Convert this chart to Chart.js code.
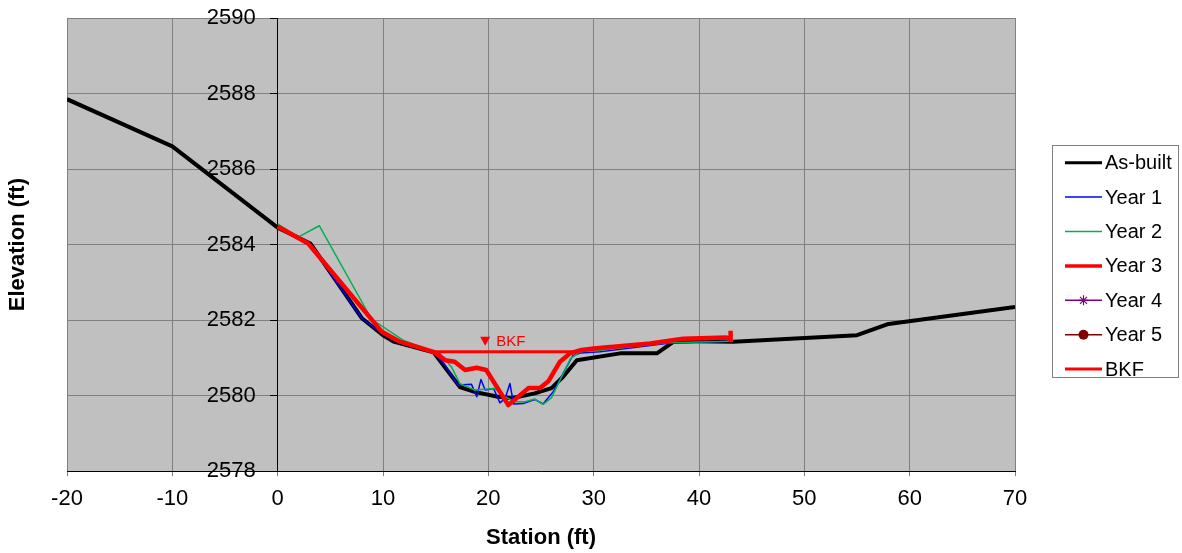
<!DOCTYPE html>
<html>
<head>
<meta charset="utf-8">
<script src="https://cdn.jsdelivr.net/npm/chart.js@4/dist/chart.umd.min.js"></script>
<style>
  body { margin: 0; background: #fff; }
</style>
</head>
<body>
<canvas id="xsChart" width="1182" height="553"></canvas>
<script>
// cross section data
const asBuiltSta = [-20, -10, 0, 3.1, 8.0, 10, 11, 14.8, 17.3, 18.7, 20.9, 22.2, 24.4, 26.0, 27.1, 28.4, 32.5, 36.0, 37.7, 43.3, 55, 58, 70];
const asBuiltElev = [2587.85, 2586.6, 2584.45, 2584.03, 2582.05, 2581.6, 2581.43, 2581.15, 2580.23, 2580.1, 2579.97, 2579.93, 2580.06, 2580.2, 2580.5, 2580.94, 2581.12, 2581.12, 2581.45, 2581.43, 2581.6, 2581.9, 2582.35];

const year1Sta = [0, 3.0, 8.0, 10, 11.5, 14.8, 15.9, 17.1, 18.4, 18.9, 19.3, 19.7, 20.5, 21.1, 21.6, 22.05, 22.4, 23.3, 24.4, 25.2, 26.2, 27.1, 28.0, 28.7, 30.6, 36.9, 43.2];
const year1Elev = [2584.45, 2584.03, 2582.05, 2581.62, 2581.4, 2581.16, 2580.8, 2580.28, 2580.3, 2579.97, 2580.43, 2580.15, 2580.19, 2579.81, 2579.93, 2580.32, 2579.78, 2579.79, 2579.9, 2579.78, 2580.12, 2580.59, 2581.05, 2581.13, 2581.16, 2581.38, 2581.45];

const year2Sta = [0, 1.95, 3.95, 8.9, 11.9, 14.0, 15.4, 16.5, 17.3, 18.7, 20.6, 21.6, 22.5, 23.5, 24.4, 25.2, 26.0, 26.8, 27.8, 28.7, 30.6, 36.9, 43.2];
const year2Elev = [2584.55, 2584.2, 2584.5, 2582.03, 2581.47, 2581.25, 2581.12, 2580.76, 2580.32, 2580.15, 2580.19, 2579.97, 2579.84, 2579.84, 2579.91, 2579.77, 2579.95, 2580.41, 2580.98, 2581.16, 2581.2, 2581.4, 2581.44];

const year3Sta = [0, 2.9, 9.9, 11.6, 14.8, 15.9, 16.8, 17.8, 18.9, 19.8, 21.9, 23.8, 24.9, 25.7, 26.8, 27.75, 28.7, 30.0, 35.35, 38.5, 42.6, 43.0, 43.0];
const year3Elev = [2584.48, 2584.03, 2581.69, 2581.43, 2581.16, 2580.94, 2580.9, 2580.68, 2580.74, 2580.68, 2579.75, 2580.2, 2580.2, 2580.38, 2580.9, 2581.12, 2581.2, 2581.25, 2581.38, 2581.51, 2581.54, 2581.47, 2581.72];

const year4Sta = [];
const year4Elev = [];
const year5Sta = [];
const year5Elev = [];

const bkfSta = [14.8, 28.4];
const bkfElev = [2581.16, 2581.16];
const bkfLabel = { sta: 19.7, elev: 2581.44, text: "BKF" };

const stationTicks = { min: -20, max: 70, step: 10 };
const elevTicks = { min: 2578, max: 2590, step: 2 };

function pts(xs, ys) {
  return xs.map((x, i) => ({ x: x, y: ys[i] }));
}

const FONT = "'Liberation Sans', Arial, sans-serif";

const plotBg = {
  id: "plotBg",
  beforeDraw(chart) {
    const { ctx, chartArea: a } = chart;
    ctx.save();
    ctx.fillStyle = "#C0C0C0";
    ctx.fillRect(a.left, a.top, a.right - a.left, a.bottom - a.top);
    ctx.restore();
  }
};

const bkfText = {
  id: "bkfText",
  afterDatasetsDraw(chart) {
    const ctx = chart.ctx;
    const px = chart.scales.x.getPixelForValue(bkfLabel.sta);
    const py = chart.scales.y.getPixelForValue(bkfLabel.elev);
    ctx.save();
    ctx.fillStyle = "#FF0000";
    ctx.beginPath();
    ctx.moveTo(px - 5, py - 4.5);
    ctx.lineTo(px + 5, py - 4.5);
    ctx.lineTo(px, py + 4.5);
    ctx.closePath();
    ctx.fill();
    ctx.font = "15px " + FONT;
    ctx.textBaseline = "middle";
    ctx.fillText(bkfLabel.text, px + 11, py + 1);
    ctx.restore();
  }
};

// legend box on the right, drawn by hand so the markers sit on the lines
const boxLegend = {
  id: "boxLegend",
  afterDraw(chart) {
    const ctx = chart.ctx;
    const x0 = chart.chartArea.right + 37;
    const y0 = 145, w = 126, h = 232, rowH = 34.4;
    ctx.save();
    ctx.fillStyle = "#fff";
    ctx.fillRect(x0, y0, w, h);
    ctx.strokeStyle = "#808080";
    ctx.lineWidth = 1;
    ctx.strokeRect(x0 + 0.5, y0 + 0.5, w, h);
    chart.data.datasets.forEach((ds, i) => {
      const y = y0 + 17.7 + i * rowH;
      const lx = x0 + 13, rx = x0 + 50, cx = (lx + rx) / 2;
      ctx.strokeStyle = ds.borderColor;
      ctx.lineWidth = ds.legendWidth;
      ctx.beginPath();
      ctx.moveTo(lx, y);
      ctx.lineTo(rx, y);
      ctx.stroke();
      if (ds.marker === "star") {
        ctx.lineWidth = 1.2;
        const r = 5;
        ctx.beginPath();
        ctx.moveTo(cx - r, y); ctx.lineTo(cx + r, y);
        ctx.moveTo(cx, y - r); ctx.lineTo(cx, y + r);
        ctx.moveTo(cx - r * 0.7, y - r * 0.7); ctx.lineTo(cx + r * 0.7, y + r * 0.7);
        ctx.moveTo(cx - r * 0.7, y + r * 0.7); ctx.lineTo(cx + r * 0.7, y - r * 0.7);
        ctx.stroke();
      } else if (ds.marker === "circle") {
        ctx.fillStyle = ds.borderColor;
        ctx.beginPath();
        ctx.arc(cx, y, 5, 0, Math.PI * 2);
        ctx.fill();
      }
      ctx.fillStyle = "#000";
      ctx.font = "20px " + FONT;
      ctx.textBaseline = "middle";
      ctx.fillText(ds.label, rx + 3, y + 1);
    });
    ctx.restore();
  }
};

const series = [
  { label: "As-built", data: pts(asBuiltSta, asBuiltElev), borderColor: "#000000", borderWidth: 4, legendWidth: 3 },
  { label: "Year 1", data: pts(year1Sta, year1Elev), borderColor: "#0000FF", borderWidth: 1.5, legendWidth: 1.5 },
  { label: "Year 2", data: pts(year2Sta, year2Elev), borderColor: "#00B050", borderWidth: 1.5, legendWidth: 1.5 },
  { label: "Year 3", data: pts(year3Sta, year3Elev), borderColor: "#FF0000", borderWidth: 4.5, legendWidth: 3.5 },
  { label: "Year 4", data: pts(year4Sta, year4Elev), borderColor: "#800080", borderWidth: 1.5, legendWidth: 1.5, marker: "star" },
  { label: "Year 5", data: pts(year5Sta, year5Elev), borderColor: "#800000", borderWidth: 1.5, legendWidth: 1.5, marker: "circle" },
  { label: "BKF", data: pts(bkfSta, bkfElev), borderColor: "#FF0000", borderWidth: 3, legendWidth: 3 }
];
// later series sit on top, like the spreadsheet
series.forEach((s, i) => {
  s.order = series.length - i;
  s.pointRadius = 0;
  s.fill = false;
  s.tension = 0;
  s.borderJoinStyle = "round";
});

const xsChart = new Chart(document.getElementById("xsChart"), {
  type: "line",
  data: { datasets: series },
  plugins: [plotBg, bkfText, boxLegend],
  options: {
    responsive: false,
    animation: false,
    layout: { padding: { left: 4, right: 167, top: 18, bottom: 0 } },
    plugins: { legend: { display: false }, tooltip: { enabled: false } },
    scales: {
      x: {
        type: "linear",
        position: "bottom",
        min: stationTicks.min,
        max: stationTicks.max,
        ticks: {
          stepSize: stationTicks.step,
          color: "#000",
          font: { family: FONT, size: 22 },
          padding: 10,
          callback: (v) => String(v)
        },
        grid: { color: "#808080", tickColor: "#808080", tickLength: 5 },
        border: { display: true, color: "#000", width: 1 },
        title: {
          display: true,
          text: "Station (ft)",
          color: "#000",
          font: { family: FONT, size: 22, weight: "bold" },
          padding: { top: 2, bottom: 2 }
        }
      },
      y: {
        type: "linear",
        position: { x: 0 },
        min: elevTicks.min,
        max: elevTicks.max,
        ticks: {
          stepSize: elevTicks.step,
          color: "#000",
          font: { family: FONT, size: 22 },
          padding: 0,
          // axis sits at station 0, labels are right aligned on it
          callback: (v) => String(v) + "\u2002\u2002"
        },
        grid: { color: "#808080", tickColor: "#000", tickLength: 7 },
        border: { display: true, color: "#000", width: 1 }
      },
      yTitle: {
        type: "linear",
        position: "left",
        ticks: { display: false },
        grid: { display: false, drawTicks: false, tickLength: 0 },
        border: { display: false },
        title: {
          display: true,
          text: "Elevation (ft)",
          color: "#000",
          font: { family: FONT, size: 22, weight: "bold" },
          padding: { top: 1, bottom: 35.6 }
        }
      }
    }
  }
});
</script>
</body>
</html>
